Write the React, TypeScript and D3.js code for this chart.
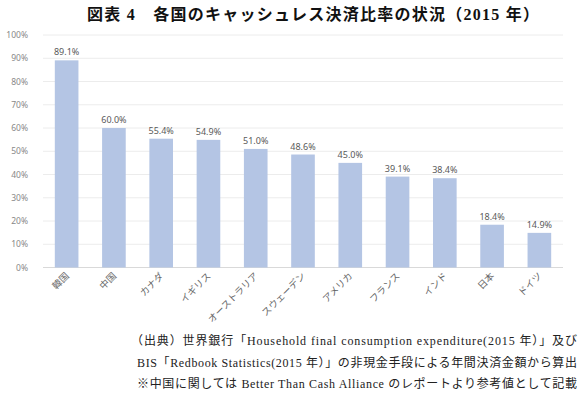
import React from "react";
import * as d3 from "d3";

const categories = ["韓国", "中国", "カナダ", "イギリス", "オーストラリア", "スウェーデン", "アメリカ", "フランス", "インド", "日本", "ドイツ"];
const values = [89.1, 60.0, 55.4, 54.9, 51.0, 48.6, 45.0, 39.1, 38.4, 18.4, 14.9];
const yTicks = [0, 10, 20, 30, 40, 50, 60, 70, 80, 90, 100];
const title = "図表 4　各国のキャッシュレス決済比率の状況（2015 年）";
const notes = [
  "（出典）世界銀行「Household final consumption expenditure(2015 年）」及び",
  "BIS「Redbook Statistics(2015 年）」の非現金手段による年間決済金額から算出",
  "※中国に関しては Better Than Cash Alliance のレポートより参考値として記載",
];

export default function App() {
  const W = 588, H = 398;
  const x = d3.scaleBand<string>().domain(categories).range([43, 563]).paddingInner(0.5).paddingOuter(0.25);
  const y = d3.scaleLinear().domain([0, 100]).range([267.5, 35]);
  const serif = "'Liberation Serif', 'DejaVu Serif', 'Noto Sans CJK JP', serif";
  const sans = "'Noto Sans', 'Noto Sans CJK JP', sans-serif";
  return (
    <svg width={W} height={H} style={{ position: "absolute", left: 0, top: 0, background: "#fff" }}>
      <text x={87} y={20} fontFamily={serif} fontWeight="bold" fontSize={16} fill="#111" textLength={452} lengthAdjust="spacing">{title}</text>
      {yTicks.map((t) => (
        <g key={t}>
          <line x1={43} x2={563} y1={y(t)} y2={y(t)} stroke={t === 0 ? "#d9d9d9" : "#ececec"} strokeWidth={1} />
          <text x={28} y={y(t) + 3} textAnchor="end" fontFamily={sans} fontSize={8.5} fill="#888">{t}%</text>
        </g>
      ))}
      {categories.map((c, i) => (
        <g key={c}>
          <rect x={x(c)!} y={y(values[i])} width={x.bandwidth()} height={y(0) - y(values[i])} fill="#b4c5e4" />
          <text x={x(c)! + x.bandwidth() / 2} y={y(values[i]) - 5} textAnchor="middle" fontFamily={sans} fontSize={9} fill="#595959">{values[i].toFixed(1)}%</text>
          <text transform={`translate(${x(c)! + x.bandwidth() / 2 + 3},${y(0) + 9}) rotate(-45)`} textAnchor="end" fontFamily={sans} fontSize={9.5} fill="#666">{c}</text>
        </g>
      ))}
      {notes.map((n, i) => (
        <text key={i} x={i === 0 ? 131 : 137} y={345 + i * 21.5} fontFamily={serif} fontSize={12} fill="#222" textLength={i === 0 ? 446 : 440} lengthAdjust="spacing">{n}</text>
      ))}
    </svg>
  );
}
